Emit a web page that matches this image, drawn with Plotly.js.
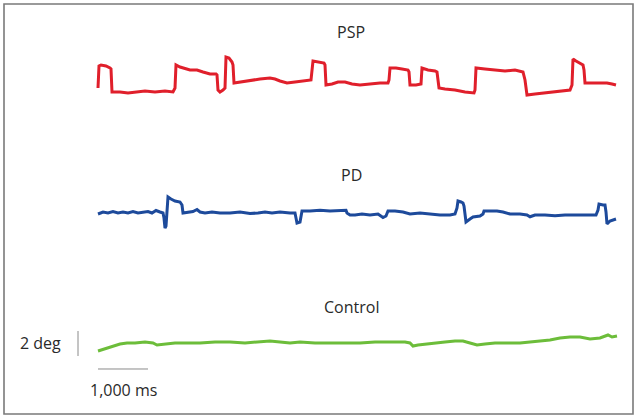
<!DOCTYPE html>
<html>
<head>
<meta charset="utf-8">
<script src="https://cdn.plot.ly/plotly-3.0.1.min.js"></script>
<style>html,body{margin:0;padding:0;background:#fff;}#chart{width:638px;height:420px;}</style>
</head>
<body>
<div id="chart"></div>
<script>
// Eye position traces: time in ms, horizontal eye position in degrees
const pspTime = [0,20,60,160,240,260,280,440,600,740,940,1140,1340,1500,1540,1560,1640,1840,1980,2100,2240,2360,2380,2400,2440,2500,2540,2560,2620,2680,2700,2720,2840,3040,3240,3440,3540,3640,3780,3940,4140,4260,4300,4440,4520,4540,4560,4680,4800,4940,5080,5240,5440,5640,5800,5820,5840,5960,6080,6200,6220,6240,6360,6460,6480,6600,6740,6780,6800,6820,6940,7140,7340,7520,7540,7560,7740,7940,8140,8340,8500,8540,8580,8740,8940,9140,9340,9440,9480,9500,9560,9640,9700,9720,9740,9880,10040,10180,10280,10360];
const pspDeg  = [0.32,2.08,2.16,2.08,1.92,1.84,0,0,-0.08,0,0.08,0,0.08,0,0.32,2.16,2.0,1.76,1.76,1.6,1.44,1.44,1.36,0.16,0,0.16,0.32,2.8,2.72,2.4,2.16,0.72,0.8,0.96,1.04,1.12,1.04,0.88,0.72,0.8,0.88,0.96,2.48,2.4,2.32,2.16,0.56,0.64,0.8,0.8,0.64,0.56,0.64,0.72,0.72,0.96,1.92,1.92,1.84,1.76,1.6,0.56,0.56,0.64,1.92,1.76,1.68,1.6,0.96,0.32,0.24,0.16,0,-0.08,0.16,1.92,1.84,1.76,1.68,1.76,1.6,0.96,-0.24,-0.16,-0.08,0,0.08,0.16,0.56,2.64,2.48,2.32,2.16,1.76,0.72,0.72,0.72,0.72,0.64,0.56];

const pdTime = [0,100,200,300,400,500,600,700,800,900,1000,1080,1160,1240,1300,1320,1340,1360,1380,1400,1460,1540,1640,1680,1700,1800,1900,1980,2040,2140,2280,2440,2640,2840,3040,3200,3340,3480,3640,3840,3940,3960,3980,4040,4060,4080,4240,4440,4640,4840,4960,4980,5040,5140,5280,5440,5600,5700,5760,5800,5940,6100,6240,6440,6640,6840,7040,7140,7180,7200,7260,7300,7320,7360,7440,7500,7640,7700,7720,7840,7980,8100,8240,8440,8580,8640,8740,8940,9140,9340,9540,9740,9880,9960,10000,10020,10100,10140,10160,10180,10240,10300,10360];
const pdDeg  = [-0.08,0.08,0,0.12,0,0.08,0,0.12,0,0.08,0.12,0,0.2,0.08,0,-0.4,-1.2,-1.04,-0.16,1.28,1.12,0.96,0.88,0.64,0,0.08,0.12,0.28,0.08,0,0.08,0,0,0.08,-0.04,0,0.08,0,0.08,0,0,-0.4,-0.8,-0.72,-0.16,0.16,0.16,0.22,0.16,0.22,0.22,0,-0.16,-0.16,-0.08,-0.16,-0.08,-0.36,-0.24,0.16,0.16,0.08,-0.08,0,-0.08,-0.16,-0.16,-0.08,0.4,0.96,0.88,0.8,0.56,-0.72,-0.48,-0.32,-0.24,-0.08,0.16,0.16,0.16,0.08,-0.08,-0.08,-0.16,-0.3,-0.16,-0.16,-0.22,-0.16,-0.16,-0.16,-0.22,-0.16,0.24,0.72,0.64,0.64,0.08,-0.88,-0.64,-0.56,-0.48];

const ctlTime = [0,140,280,440,580,740,940,1100,1180,1340,1540,1740,2040,2340,2640,2940,3240,3440,3640,3840,4040,4340,4640,4940,5240,5540,5840,6140,6240,6300,6400,6640,6940,7140,7300,7440,7580,7740,7940,8240,8440,8640,8840,9040,9240,9440,9640,9780,9840,10040,10140,10200,10280,10380];
const ctlDeg  = [-0.64,-0.48,-0.32,-0.08,0,0,0.08,0,-0.16,-0.08,0,0,0,0.08,0.08,0,0.08,0.16,0.08,0,0.08,0,0,0,0,0.08,0.08,0.08,0,-0.24,-0.16,-0.08,0.08,0.16,0.16,0,-0.16,-0.08,0,0,0,0.08,0.16,0.24,0.4,0.48,0.48,0.4,0.32,0.4,0.56,0.64,0.48,0.56];

const groupLabels = ['PSP', 'PD', 'Control'];
const scaleBarMs = 1000;
const scaleBarDeg = 2;
const scaleLabels = ['2 deg', '1,000 ms'];

const lineW = 3;
const traces = [
  {x: pspTime, y: pspDeg, yaxis: 'y', type: 'scatter', mode: 'lines', line: {color: '#e01f2b', width: lineW}, hoverinfo: 'skip'},
  {x: pdTime, y: pdDeg, yaxis: 'y2', type: 'scatter', mode: 'lines', line: {color: '#1d4a9b', width: lineW}, hoverinfo: 'skip'},
  {x: ctlTime, y: ctlDeg, yaxis: 'y3', type: 'scatter', mode: 'lines', line: {color: '#6cbd3a', width: lineW}, hoverinfo: 'skip'}
];

const hidden = {visible: false, fixedrange: true};
const txtFont = {family: 'Open Sans, Noto Sans, sans-serif', size: 16, color: '#2a2a2a'};
const layout = {
  width: 638, height: 420,
  margin: {l: 0, r: 0, t: 0, b: 0},
  paper_bgcolor: '#fff', plot_bgcolor: 'rgba(0,0,0,0)',
  showlegend: false,
  xaxis: Object.assign({range: [-1960, 10800], domain: [0, 1]}, hidden),
  yaxis: Object.assign({range: [-2, 4], domain: [0.72143, 0.9]}, hidden),
  yaxis2: Object.assign({range: [-2, 2], domain: [0.43333, 0.55238]}, hidden),
  yaxis3: Object.assign({range: [-4.4, 2], domain: [0.05238, 0.24286]}, hidden),
  shapes: [
    {type: 'rect', xref: 'paper', yref: 'paper', x0: 0.00627, x1: 0.99216, y0: 0.01429, y1: 0.99048,
     line: {color: '#7a7a7a', width: 1.6}, fillcolor: 'rgba(0,0,0,0)'},
    {type: 'line', xref: 'x', yref: 'y3', x0: -400, x1: -400, y0: -1.04, y1: -1.04 + scaleBarDeg,
     line: {color: '#8a8a8a', width: 1}},
    {type: 'line', xref: 'x', yref: 'y3', x0: 0, x1: scaleBarMs, y0: -2.08, y1: -2.08,
     line: {color: '#8a8a8a', width: 1}}
  ],
  annotations: [
    {text: groupLabels[0], xref: 'paper', yref: 'paper', x: 0.5502, y: 0.9238, showarrow: false, font: txtFont, xanchor: 'center', yanchor: 'middle'},
    {text: groupLabels[1], xref: 'paper', yref: 'paper', x: 0.5517, y: 0.5833, showarrow: false, font: txtFont, xanchor: 'center', yanchor: 'middle'},
    {text: groupLabels[2], xref: 'paper', yref: 'paper', x: 0.5502, y: 0.269, showarrow: false, font: txtFont, xanchor: 'center', yanchor: 'middle'},
    {text: scaleLabels[0], xref: 'paper', yref: 'paper', x: 0.0995, y: 0.1833, showarrow: false, font: txtFont, xanchor: 'right', yanchor: 'middle'},
    {text: scaleLabels[1], xref: 'x', yref: 'paper', x: scaleBarMs / 2, y: 0.0714, showarrow: false, font: txtFont, xanchor: 'center', yanchor: 'middle'}
  ]
};

Plotly.newPlot('chart', traces, layout, {staticPlot: true, displayModeBar: false});
</script>
</body>
</html>
